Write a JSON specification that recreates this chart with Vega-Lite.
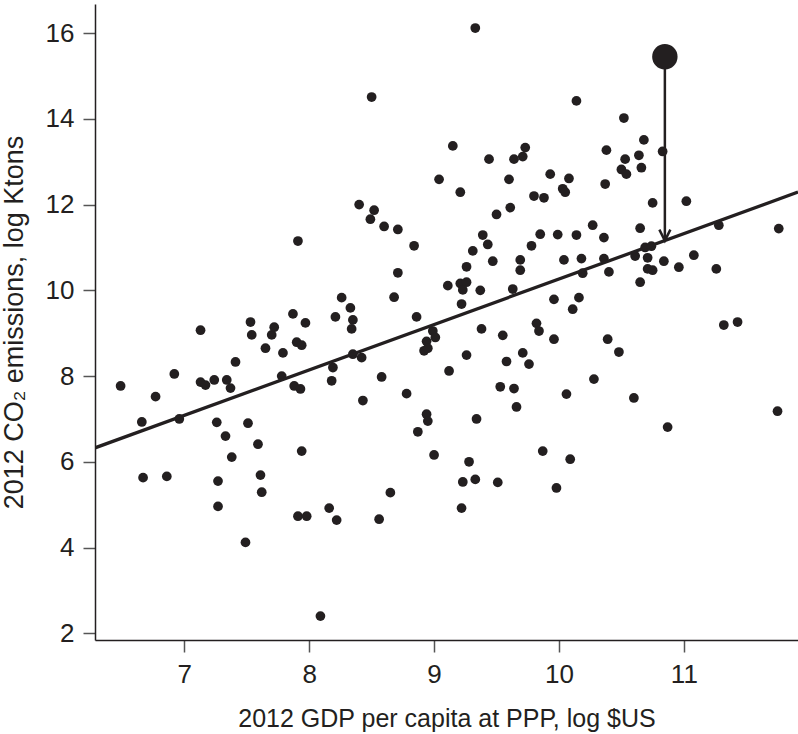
{
  "$schema": "https://vega.github.io/schema/vega-lite/v6.json",
  "width": 703,
  "height": 636,
  "autosize": {"type": "none"},
  "padding": {"left": 95, "top": 4, "right": 0, "bottom": 94},
  "background": "white",
  "config": {"view": {"stroke": null}, "font": "Liberation Sans"},
  "datasets": {
    "countries": [
      {"gdp":6.49,"co2":7.77},{"gdp":6.66,"co2":6.93},{"gdp":6.67,"co2":5.63},{"gdp":6.77,"co2":7.52},{"gdp":6.86,"co2":5.66},{"gdp":6.92,"co2":8.05},{"gdp":6.96,"co2":7.00},{"gdp":7.13,"co2":9.07},{"gdp":7.13,"co2":7.86},{"gdp":7.17,"co2":7.79},{"gdp":7.24,"co2":7.91},{"gdp":7.26,"co2":6.92},{"gdp":7.27,"co2":5.55},{"gdp":7.27,"co2":4.96},{"gdp":7.33,"co2":6.60},{"gdp":7.34,"co2":7.91},{"gdp":7.37,"co2":7.72},{"gdp":7.38,"co2":6.11},{"gdp":7.41,"co2":8.33},{"gdp":7.49,"co2":4.12},{"gdp":7.51,"co2":6.90},{"gdp":7.53,"co2":9.26},{"gdp":7.54,"co2":8.96},{"gdp":7.59,"co2":6.41},{"gdp":7.61,"co2":5.69},{"gdp":7.62,"co2":5.29},{"gdp":7.65,"co2":8.65},{"gdp":7.70,"co2":8.96},{"gdp":7.72,"co2":9.14},{"gdp":7.78,"co2":8.00},{"gdp":7.79,"co2":8.54},{"gdp":7.87,"co2":9.45},{"gdp":7.88,"co2":7.77},{"gdp":7.90,"co2":8.79},{"gdp":7.91,"co2":11.15},{"gdp":7.91,"co2":4.73},{"gdp":7.93,"co2":7.70},{"gdp":7.94,"co2":6.25},{"gdp":7.94,"co2":8.72},{"gdp":7.97,"co2":9.24},{"gdp":7.98,"co2":4.73},{"gdp":8.09,"co2":2.40},{"gdp":8.16,"co2":4.92},{"gdp":8.22,"co2":4.64},
      {"gdp":9.15,"co2":13.37},{"gdp":9.44,"co2":13.06},{"gdp":9.64,"co2":13.06},{"gdp":9.73,"co2":13.33},{"gdp":9.71,"co2":13.12},{"gdp":9.04,"co2":12.59},{"gdp":9.60,"co2":12.59},{"gdp":9.93,"co2":12.71},{"gdp":9.21,"co2":12.29},{"gdp":9.80,"co2":12.20},{"gdp":9.88,"co2":12.16},{"gdp":8.40,"co2":12.00},{"gdp":8.52,"co2":11.87},{"gdp":8.49,"co2":11.66},{"gdp":8.60,"co2":11.49},{"gdp":8.71,"co2":11.42},{"gdp":9.50,"co2":11.77},{"gdp":9.61,"co2":11.93},{"gdp":8.84,"co2":11.04},{"gdp":9.39,"co2":11.29},{"gdp":9.43,"co2":11.07},{"gdp":9.31,"co2":10.92},{"gdp":9.85,"co2":11.31},{"gdp":9.78,"co2":11.04},{"gdp":9.26,"co2":10.55},{"gdp":9.47,"co2":10.68},{"gdp":9.69,"co2":10.71},{"gdp":9.69,"co2":10.47},{"gdp":8.71,"co2":10.41},{"gdp":8.26,"co2":9.83},{"gdp":8.68,"co2":9.84},{"gdp":9.11,"co2":10.11},{"gdp":9.21,"co2":10.16},{"gdp":9.26,"co2":10.19},{"gdp":9.23,"co2":10.01},{"gdp":9.37,"co2":10.00},{"gdp":9.63,"co2":10.03},{"gdp":9.96,"co2":9.79},{"gdp":9.22,"co2":9.68},{"gdp":8.21,"co2":9.38},{"gdp":8.33,"co2":9.59},{"gdp":8.35,"co2":9.31},{"gdp":8.34,"co2":9.10},{"gdp":8.86,"co2":9.38},{"gdp":8.99,"co2":9.05},{"gdp":9.01,"co2":8.90},{"gdp":8.94,"co2":8.81},{"gdp":8.92,"co2":8.59},{"gdp":8.95,"co2":8.65},{"gdp":9.38,"co2":9.10},{"gdp":9.55,"co2":8.95},{"gdp":9.82,"co2":9.23},{"gdp":9.84,"co2":9.05},{"gdp":9.96,"co2":8.86},{"gdp":8.19,"co2":8.20},{"gdp":8.18,"co2":7.89},{"gdp":8.35,"co2":8.51},{"gdp":8.42,"co2":8.43},{"gdp":8.58,"co2":7.98},{"gdp":8.43,"co2":7.43},{"gdp":8.78,"co2":7.59},{"gdp":9.12,"co2":8.12},{"gdp":9.26,"co2":8.49},{"gdp":9.58,"co2":8.34},{"gdp":9.71,"co2":8.54},{"gdp":9.76,"co2":8.28},{"gdp":9.53,"co2":7.75},{"gdp":9.64,"co2":7.71},{"gdp":9.66,"co2":7.28},{"gdp":8.94,"co2":7.11},{"gdp":8.95,"co2":6.95},{"gdp":8.87,"co2":6.70},{"gdp":9.34,"co2":7.00},{"gdp":9.00,"co2":6.16},{"gdp":9.87,"co2":6.25},{"gdp":9.28,"co2":6.00},{"gdp":9.23,"co2":5.53},{"gdp":9.33,"co2":5.59},{"gdp":9.51,"co2":5.52},{"gdp":8.65,"co2":5.28},{"gdp":9.98,"co2":5.39},{"gdp":9.22,"co2":4.92},{"gdp":8.56,"co2":4.66},{"gdp":8.50,"co2":14.51},{"gdp":9.33,"co2":16.12},
      {"gdp":10.14,"co2":14.42},{"gdp":10.52,"co2":14.02},{"gdp":10.68,"co2":13.51},{"gdp":10.38,"co2":13.27},{"gdp":10.83,"co2":13.24},{"gdp":10.53,"co2":13.06},{"gdp":10.64,"co2":13.15},{"gdp":10.50,"co2":12.82},{"gdp":10.54,"co2":12.71},{"gdp":10.66,"co2":12.86},{"gdp":10.08,"co2":12.61},{"gdp":10.03,"co2":12.37},{"gdp":10.05,"co2":12.29},{"gdp":10.37,"co2":12.48},{"gdp":10.75,"co2":12.04},{"gdp":11.02,"co2":12.08},{"gdp":10.27,"co2":11.52},{"gdp":10.65,"co2":11.45},{"gdp":10.14,"co2":11.29},{"gdp":10.36,"co2":11.23},{"gdp":9.99,"co2":11.30},{"gdp":11.28,"co2":11.52},{"gdp":11.76,"co2":11.44},{"gdp":10.69,"co2":11.00},{"gdp":10.74,"co2":11.03},{"gdp":10.04,"co2":10.71},{"gdp":10.18,"co2":10.74},{"gdp":10.36,"co2":10.74},{"gdp":10.61,"co2":10.80},{"gdp":10.71,"co2":10.76},{"gdp":11.08,"co2":10.82},{"gdp":10.19,"co2":10.40},{"gdp":10.40,"co2":10.43},{"gdp":10.71,"co2":10.50},{"gdp":10.75,"co2":10.47},{"gdp":10.84,"co2":10.68},{"gdp":10.96,"co2":10.54},{"gdp":11.26,"co2":10.50},{"gdp":10.65,"co2":10.19},{"gdp":10.16,"co2":9.83},
      {"gdp":10.11,"co2":9.56},{"gdp":10.06,"co2":7.58},{"gdp":10.09,"co2":6.06},{"gdp":10.28,"co2":7.93},{"gdp":10.39,"co2":8.86},{"gdp":10.48,"co2":8.56},{"gdp":10.60,"co2":7.49},{"gdp":10.87,"co2":6.81},{"gdp":11.32,"co2":9.19},{"gdp":11.43,"co2":9.26},{"gdp":11.75,"co2":7.18}
    ],
    "fit": [{"gdp":6.285,"co2":6.325},{"gdp":11.914,"co2":12.292}],
    "highlight": [{"gdp":10.848,"co2":15.45,"tip":11.16}]
  },
  "layer": [
    {
      "data": {"name": "countries"},
      "mark": {"type": "circle", "color": "#231f20", "opacity": 1, "size": 95},
      "encoding": {
        "x": {"field": "gdp", "type": "quantitative",
          "scale": {"domain": [6.285, 11.914], "nice": false, "zero": false},
          "axis": {"values": [7, 8, 9, 10, 11], "format": "d", "title": "2012 GDP per capita at PPP, log $US", "grid": false,
            "tickSize": 12, "tickColor": "#555555", "tickWidth": 1.5, "domainColor": "#231f20", "domainWidth": 1.5,
            "labelFontSize": 26, "labelColor": "#231f20", "labelPadding": 9, "labelFont": "Liberation Sans",
            "titleFontSize": 25, "titleFontWeight": "normal", "titleColor": "#231f20", "titlePadding": 19, "titleFont": "Liberation Sans"}},
        "y": {"field": "co2", "type": "quantitative",
          "scale": {"domain": [1.843, 16.68], "nice": false, "zero": false},
          "axis": {"values": [2, 4, 6, 8, 10, 12, 14, 16], "format": "d", "title": "2012 CO₂ emissions, log Ktons", "grid": false,
            "tickSize": 12, "tickColor": "#555555", "tickWidth": 1.5, "domainColor": "#231f20", "domainWidth": 1.5,
            "labelFontSize": 26, "labelColor": "#231f20", "labelPadding": 9, "labelFont": "Liberation Sans",
            "titleFontSize": 27, "titleFontWeight": "normal", "titleColor": "#231f20", "titlePadding": 17, "titleFont": "Liberation Sans"}}
      }
    },
    {
      "data": {"name": "fit"},
      "mark": {"type": "line", "color": "#231f20", "strokeWidth": 3.3, "clip": true},
      "encoding": {
        "x": {"field": "gdp", "type": "quantitative"},
        "y": {"field": "co2", "type": "quantitative"}
      }
    },
    {
      "data": {"name": "highlight"},
      "mark": {"type": "rule", "color": "#231f20", "strokeWidth": 2.5},
      "encoding": {
        "x": {"field": "gdp", "type": "quantitative"},
        "y": {"field": "co2", "type": "quantitative"},
        "y2": {"field": "tip"}
      }
    },
    {
      "data": {"name": "highlight"},
      "mark": {"type": "point", "shape": "M-1,-2L0,0L1,-2", "filled": false, "size": 121, "stroke": "#231f20", "strokeWidth": 2.5, "opacity": 1},
      "encoding": {
        "x": {"field": "gdp", "type": "quantitative"},
        "y": {"field": "tip", "type": "quantitative"}
      }
    },
    {
      "data": {"name": "highlight"},
      "mark": {"type": "circle", "color": "#231f20", "opacity": 1, "size": 646},
      "encoding": {
        "x": {"field": "gdp", "type": "quantitative"},
        "y": {"field": "co2", "type": "quantitative"}
      }
    }
  ]
}
